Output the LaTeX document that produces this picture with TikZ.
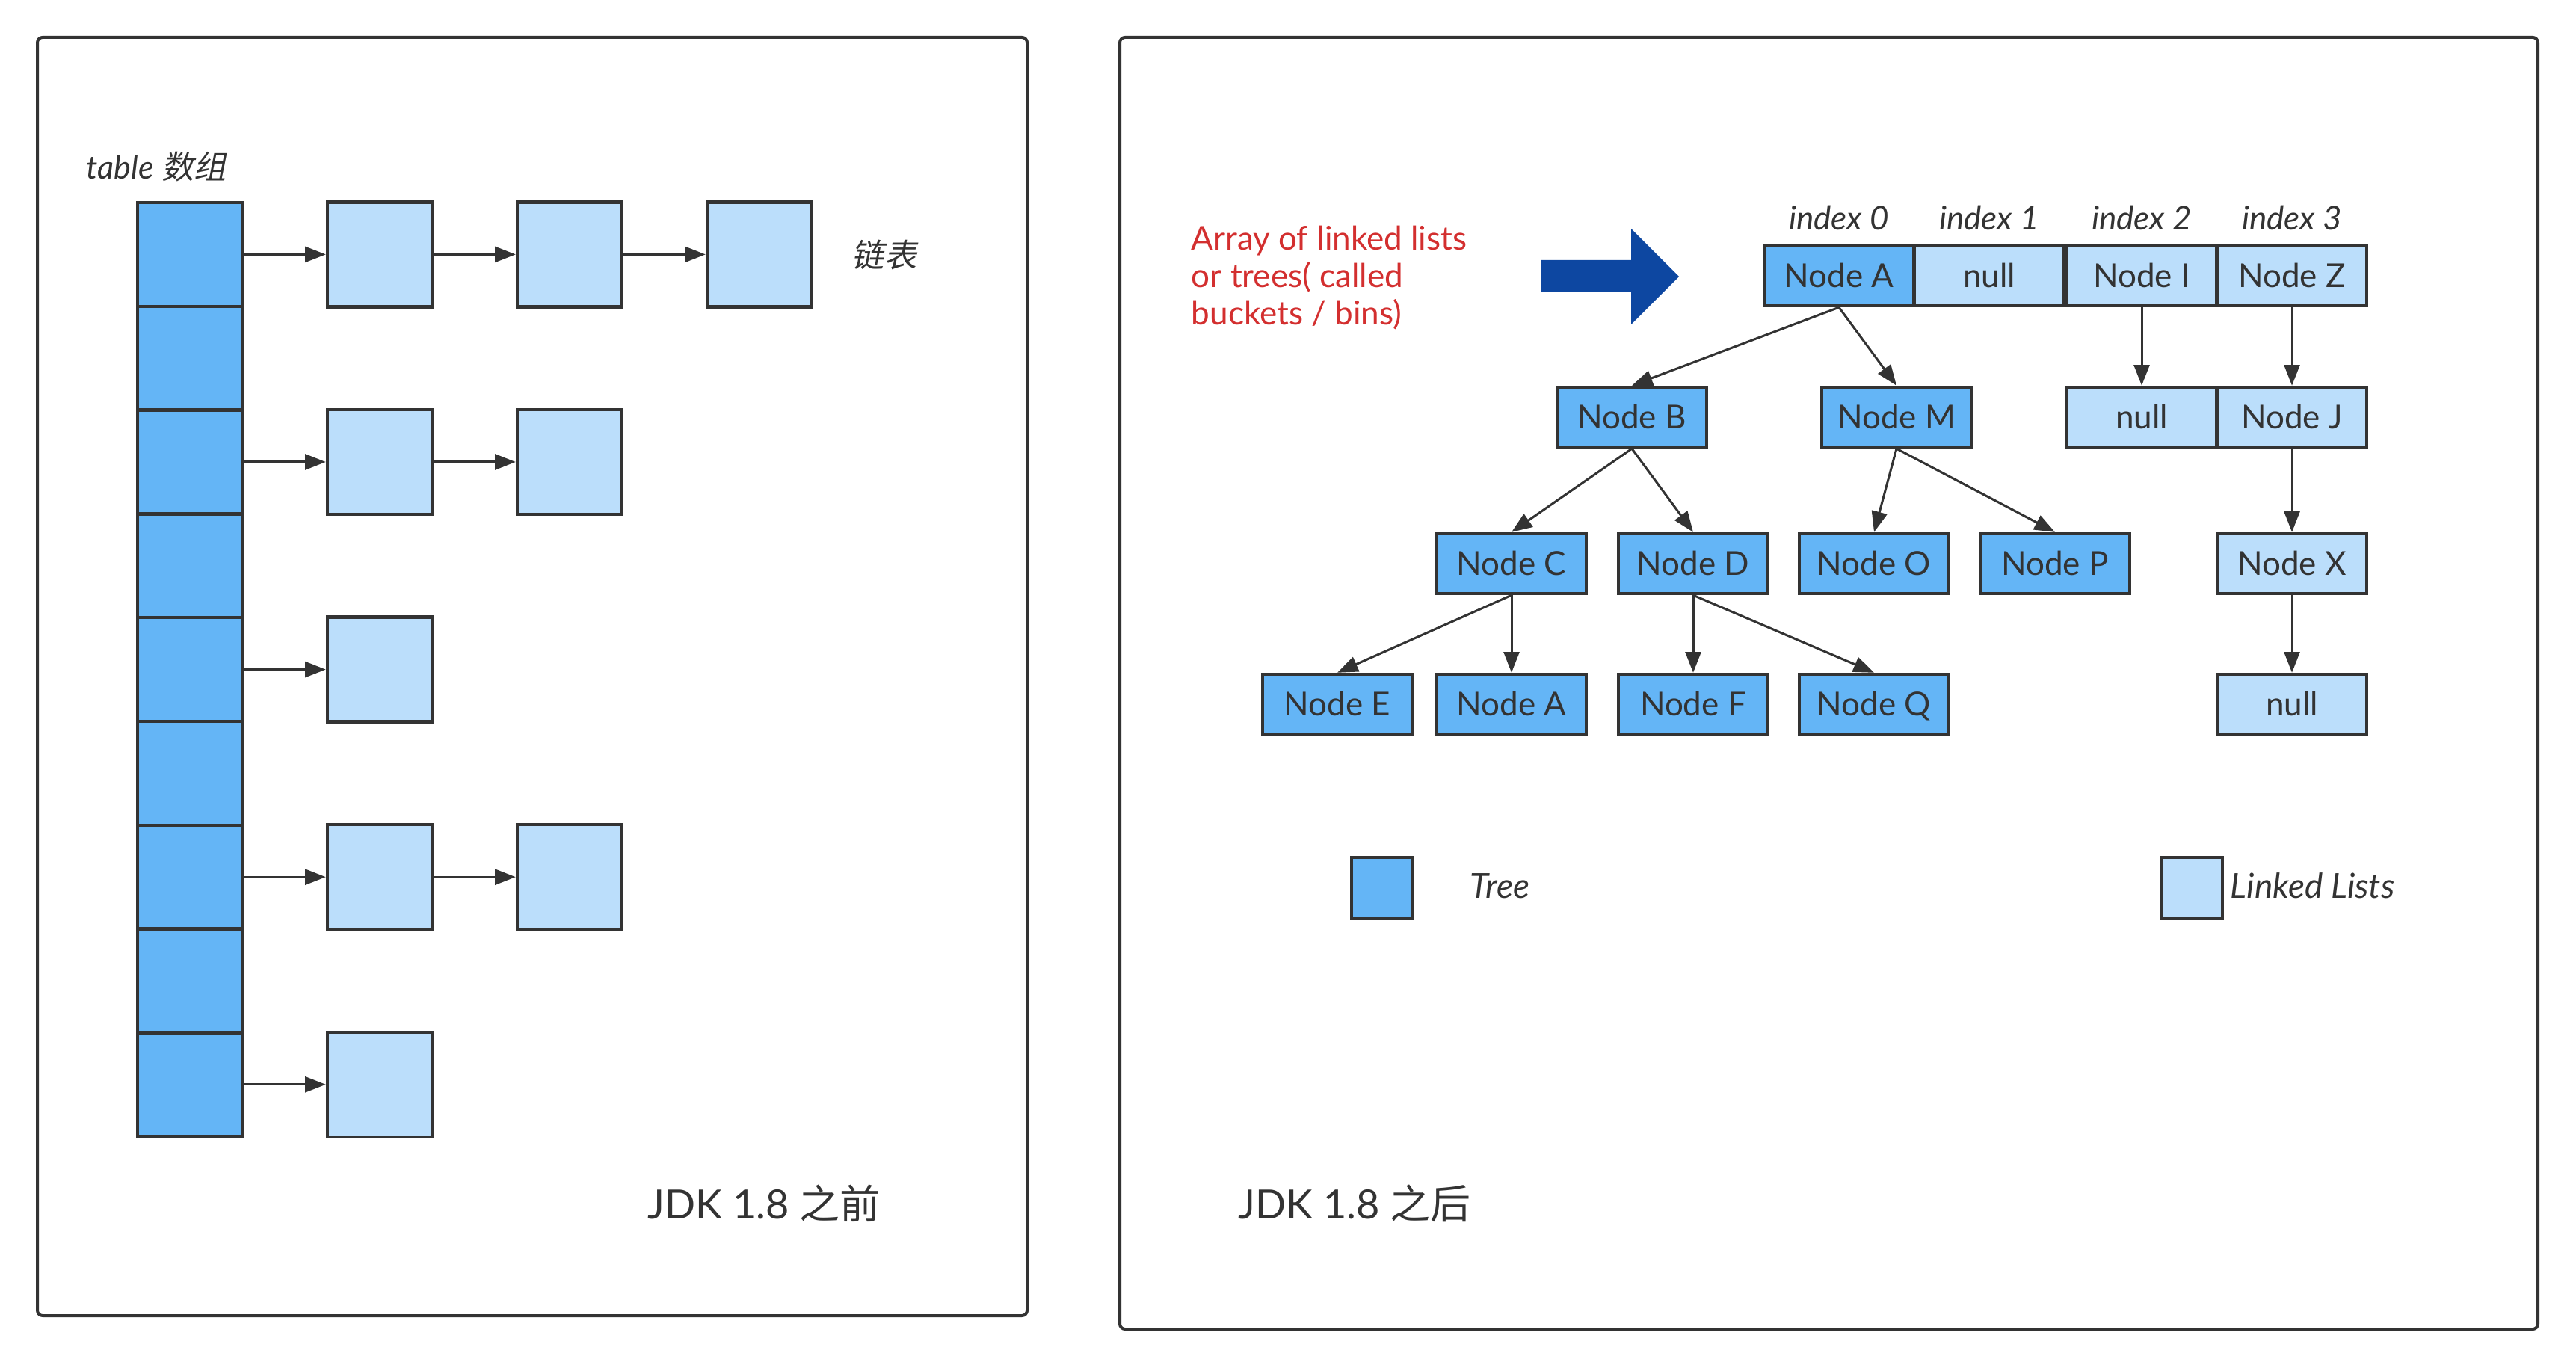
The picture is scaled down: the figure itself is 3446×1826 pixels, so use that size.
\documentclass[tikz,border=0pt]{standalone}
\usepackage{fontspec}
\setmainfont{Lato}
\newfontfamily\cjk{Noto Sans CJK SC}
\newfontfamily\cjkit{Noto Sans CJK SC}[FakeSlant=0.2]
\usetikzlibrary{arrows.meta}
\definecolor{linec}{HTML}{333333}
\definecolor{treeblue}{HTML}{64B5F6}
\definecolor{listblue}{HTML}{BBDEFB}
\definecolor{bigarrow}{HTML}{0D47A1}
\definecolor{redtxt}{HTML}{D32F2F}
\tikzset{
    cell/.style={draw=linec, fill=treeblue, line width=1.1pt, minimum width=35pt, minimum height=34.7pt, inner sep=0pt},
    link/.style={draw=linec, fill=listblue, line width=1.1pt, minimum width=35pt, minimum height=35pt, inner sep=0pt},
    tree/.style={draw=linec, fill=treeblue, line width=1.1pt, minimum width=50pt, minimum height=20pt, inner sep=0pt,
        text height=7.9pt, text depth=0pt, text=linec, font=\fontsize{11}{13}\selectfont},
    list/.style={tree, fill=listblue},
    ptr/.style={draw=linec, line width=0.75pt, -{Triangle[length=6.9pt, width=5.2pt]}},
    lbl/.style={text=linec, inner sep=0pt},
    frame/.style={draw=linec, line width=1pt, rounded corners=1.75pt}
}

\begin{document}
\begin{tikzpicture}[x=0.25pt, y=-0.25pt]
\useasboundingbox (0, 0) rectangle (3446, 1826);
% Frames
    \draw[frame] (50, 50) rectangle (1374, 1760);
    \draw[frame] (1498, 50) rectangle (3395, 1778);
% Before 1.8: table array
    \node[lbl, anchor=base west, font=\fontsize{10.8}{13}\selectfont] (tablelbl) at (115, 240) {\itshape table {\cjkit 数组}};
    \foreach \k in {1,...,9}
        \node[cell] (c\k) at (254, {271+138.8*(\k-0.5)}) {};
% Before 1.8: linked lists
    \foreach \k/\n in {1/3, 3/2, 5/1, 7/2, 9/1} {
        \foreach \j in {1,...,\n}
            \node[link] (l\k-\j) at ({508+254*(\j-1)}, {271+138.8*(\k-0.5)}) {};
        \draw[ptr] (c\k) -- (l\k-1);
    }
    \draw[ptr] (l1-1) -- (l1-2);
    \draw[ptr] (l1-2) -- (l1-3);
    \draw[ptr] (l3-1) -- (l3-2);
    \draw[ptr] (l7-1) -- (l7-2);
    \node[lbl, font=\fontsize{10.8}{13}\selectfont] (listlbl) at (1183, 341) {\cjkit 链表};
    \node[lbl, anchor=base west, font=\fontsize{13.5}{16}\selectfont] (before) at (866, 1630) {JDK 1.8 {\cjk 之前}};
% After 1.8: caption and big arrow
    \node[lbl, anchor=base west, text=redtxt, font=\fontsize{11}{13}\selectfont] (red1) at (1593, 335) {Array of linked lists};
    \node[lbl, anchor=base west, text=redtxt, font=\fontsize{11}{13}\selectfont] (red2) at (1593, 385) {or trees( called};
    \node[lbl, anchor=base west, text=redtxt, font=\fontsize{11}{13}\selectfont] (red3) at (1593, 435) {buckets / bins)};
    \fill[bigarrow] (2062, 348) -- (2182, 348) -- (2182, 306) -- (2246, 370)
        -- (2182, 434) -- (2182, 391) -- (2062, 391) -- cycle;
% After 1.8: bucket array
    \node[tree] (nA) at (2460, 369) {Node A};
    \node[list] (n0) at (2661, 369) {null};
    \node[list] (nI) at (2865, 369) {Node I};
    \node[list] (nZ) at (3066, 369) {Node Z};
    \foreach \c/\t [count=\i from 0] in {nA/0, n0/1, nI/2, nZ/3}
        \node[lbl, anchor=base, font=\fontsize{11}{13}\selectfont\itshape] (idx\i) at (\c.center |- 0, 308) {index \t};
% After 1.8: tree and lists
    \node[tree] (nB) at (2183, 558) {Node B};
    \node[tree] (nM) at (2537, 558) {Node M};
    \node[list] (n1) at (2865, 558) {null};
    \node[list] (nJ) at (3066, 558) {Node J};
    \node[tree] (nC) at (2022, 754) {Node C};
    \node[tree] (nD) at (2265, 754) {Node D};
    \node[tree] (nO) at (2507, 754) {Node O};
    \node[tree] (nP) at (2749, 754) {Node P};
    \node[list] (nX) at (3066, 754) {Node X};
    \node[tree] (nE) at (1789, 942) {Node E};
    \node[tree] (nA2) at (2022, 942) {Node A};
    \node[tree] (nF) at (2265, 942) {Node F};
    \node[tree] (nQ) at (2507, 942) {Node Q};
    \node[list] (n2) at (3066, 942) {null};
    \foreach \a/\b in {nA/nB, nA/nM, nB/nC, nB/nD, nM/nO, nM/nP, nC/nE, nC/nA2, nD/nF, nD/nQ, nI/n1, nZ/nJ, nJ/nX, nX/n2}
        \draw[ptr] (\a.south) -- (\b.north);
% Legend
    \node[tree, minimum width=20.5pt, minimum height=20.5pt] (legtree) at (1849, 1188) {};
    \node[lbl, anchor=base west, font=\fontsize{11.5}{14}\selectfont\itshape] (treelbl) at (1966, 1202) {Tree};
    \node[list, minimum width=20.5pt, minimum height=20.5pt] (leglist) at (2932, 1188) {};
    \node[lbl, anchor=base west, font=\fontsize{11.5}{14}\selectfont\itshape] (listslbl) at (2983, 1202) {Linked Lists};
    \node[lbl, anchor=base west, font=\fontsize{13.5}{16}\selectfont] (after) at (1656, 1630) {JDK 1.8 {\cjk 之后}};
\end{tikzpicture}
\end{document}
